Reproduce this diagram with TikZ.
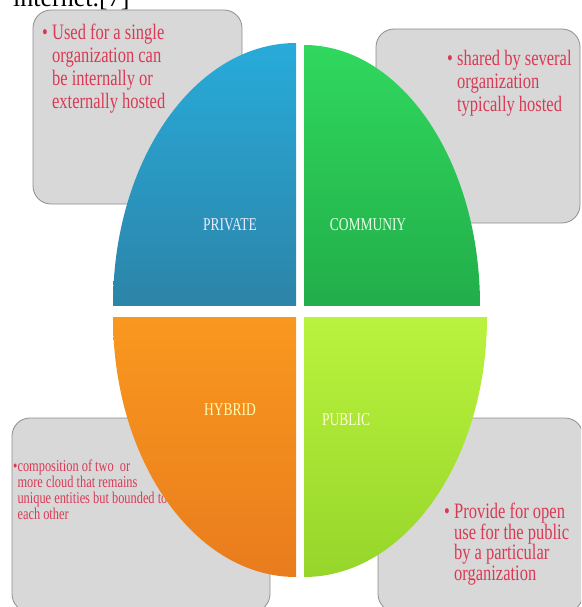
\documentclass[tikz,border=0pt]{standalone}
\usepackage{fontspec}
\setmainfont{Liberation Serif}
\newfontfamily\slidefont[FakeStretch=0.75]{Liberation Serif}
\usetikzlibrary{positioning}
\definecolor{BoxGray}{HTML}{D8D8D8}
\definecolor{BoxEdge}{HTML}{8E8E8E}
\definecolor{NoteRed}{HTML}{D83A55}
\definecolor{BlueTop}{HTML}{28ABDA}
\definecolor{BlueBot}{HTML}{2C84A8}
\definecolor{GreenTop}{HTML}{30D85E}
\definecolor{GreenBot}{HTML}{22AE4A}
\definecolor{OrangeTop}{HTML}{F9981F}
\definecolor{OrangeBot}{HTML}{E97C1D}
\definecolor{LimeTop}{HTML}{BAF33E}
\definecolor{LimeBot}{HTML}{96D52A}

\begin{document}
\begin{tikzpicture}[x=1pt,y=-1pt,
    notebox/.style={draw=BoxEdge,fill=BoxGray,rounded corners=18pt,line width=.8pt,inner sep=0pt},
    note/.style={anchor=north west,inner sep=0pt,align=left,text=NoteRed},
    quadlabel/.style={inner sep=0pt,font=\slidefont\fontsize{18}{18}\selectfont}]
  \useasboundingbox (0,0) rectangle (581,607);
  \clip (0,0) rectangle (581,607);
  \node[anchor=base west,inner sep=0pt,font=\fontsize{26}{26}\selectfont] (toptext) at (13,7) {internet.[7]};
  % grey boxes behind the quarters
  \node[notebox,minimum width=209pt,minimum height=194pt] (privbox) at (137.5,107) {};
  \node[notebox,minimum width=204pt,minimum height=194pt] (commbox) at (478,126) {};
  \node[notebox,minimum width=258pt,minimum height=194pt] (hybbox) at (141,515) {};
  \node[notebox,minimum width=205pt,minimum height=194pt] (pubbox) at (480.5,515) {};
  \node[note,font=\slidefont\fontsize{22}{23}\selectfont] (privnote) at (42,24)
    {\textbullet\ Used for a single\\\hphantom{\textbullet\ }organization can\\\hphantom{\textbullet\ }be internally or\\\hphantom{\textbullet\ }externally hosted};
  \node[note,font=\slidefont\fontsize{22}{23}\selectfont] (commnote) at (447,50)
    {\textbullet\ shared by several\\\hphantom{\textbullet\ }organization\\\hphantom{\textbullet\ }typically hosted};
  \node[note,font=\slidefont\fontsize{16.5}{16}\selectfont] (hybnote) at (13,460)
    {\textbullet composition of two\ \ or\\\hphantom{\textbullet}more cloud that remains\\\hphantom{\textbullet}unique entities but bounded to\\\hphantom{\textbullet}each other};
  \node[note,font=\slidefont\fontsize{22}{20.5}\selectfont] (pubnote) at (444,503)
    {\textbullet\ Provide for open\\\hphantom{\textbullet\ }use for the public\\\hphantom{\textbullet\ }by a particular\\\hphantom{\textbullet\ }organization};
  % the four quarters
  \begin{scope}
    \clip (296,305) ellipse [x radius=183,y radius=262];
    \shade[top color=BlueTop,bottom color=BlueBot] (113,43) rectangle (296,305);
  \end{scope}
  \begin{scope}
    \clip (304,305) ellipse [x radius=176,y radius=260];
    \shade[top color=GreenTop,bottom color=GreenBot] (304,45) rectangle (480,305);
  \end{scope}
  \begin{scope}
    \clip (296,317) ellipse [x radius=183,y radius=260];
    \shade[top color=OrangeTop,bottom color=OrangeBot] (113,317) rectangle (296,577);
  \end{scope}
  \begin{scope}
    \clip (304,317) ellipse [x radius=183,y radius=260];
    \shade[top color=LimeTop,bottom color=LimeBot] (304,317) rectangle (487,577);
  \end{scope}
  \node[quadlabel,text=blue!8] (privlabel) at (230,225) {PRIVATE};
  \node[quadlabel,text=green!10] (commlabel) at (368,225) {COMMUNIY};
  \node[quadlabel,text=yellow!30] (hyblabel) at (230,410) {HYBRID};
  \node[quadlabel,text=yellow!15] (publabel) at (346,420) {PUBLIC};
\end{tikzpicture}
\end{document}
